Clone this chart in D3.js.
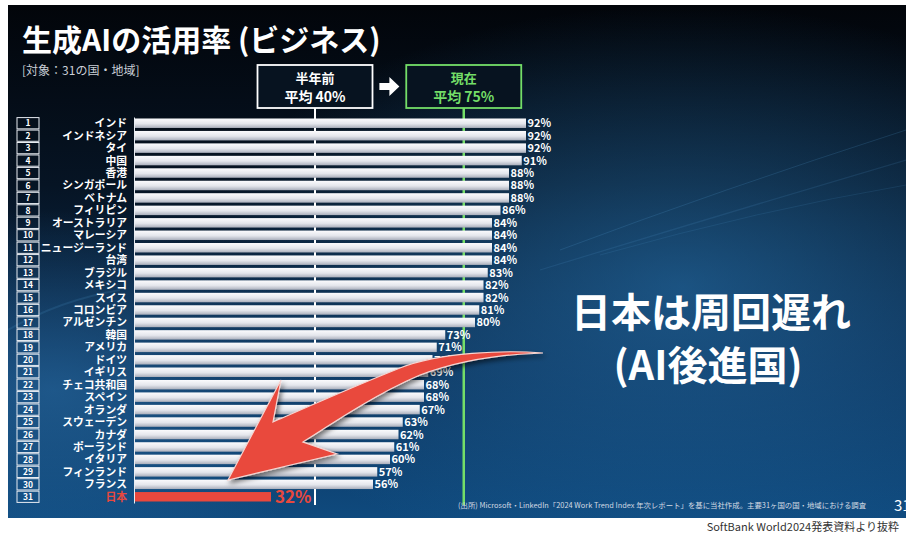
<!DOCTYPE html>
<html>
<head>
<meta charset="utf-8">
<script src="https://cdn.jsdelivr.net/npm/d3@7"></script>
<style>
  html, body { margin: 0; padding: 0; background: #fff; }
  svg { display: block; font-family: "Noto Sans CJK JP", "Noto Sans", sans-serif; }
</style>
</head>
<body>
<svg id="chart" width="909" height="535"></svg>
<script>
// 国・地域と活用率（%）
const countries = ["インド", "インドネシア", "タイ", "中国", "香港", "シンガポール", "ベトナム", "フィリピン",
  "オーストラリア", "マレーシア", "ニュージーランド", "台湾", "ブラジル", "メキシコ", "スイス", "コロンビア",
  "アルゼンチン", "韓国", "アメリカ", "ドイツ", "イギリス", "チェコ共和国", "スペイン", "オランダ",
  "スウェーデン", "カナダ", "ポーランド", "イタリア", "フィンランド", "フランス", "日本"]
const values = [92, 92, 92, 91, 88, 88, 88, 86, 84, 84, 84, 84, 83, 82, 82, 81, 80, 73, 71, 70,
  69, 68, 68, 67, 63, 62, 61, 60, 57, 56, 32]
const avgLabels = ["半年前", "現在"]
const avgValues = [40, 75]
const highlight = "日本"

const W = 909, H = 535
const slide = { x: 8, y: 5, w: 898, h: 513 }
const red = "#e9483d"
const green = "#74de68"

const svg = d3.select("#chart")
const defs = svg.append("defs")

// 背景
const bg = defs.append("linearGradient").attr("id", "bg").attr("x1", 0).attr("y1", 0).attr("x2", 0).attr("y2", 1)
bg.append("stop").attr("offset", "0%").attr("stop-color", "#02050a")
bg.append("stop").attr("offset", "35%").attr("stop-color", "#061424")
bg.append("stop").attr("offset", "70%").attr("stop-color", "#0b2f55")
bg.append("stop").attr("offset", "100%").attr("stop-color", "#0f4a7e")

const glow = defs.append("radialGradient").attr("id", "glow").attr("cx", 0.75).attr("cy", 0.55).attr("r", 0.55)
glow.append("stop").attr("offset", "0%").attr("stop-color", "#2a7ab8").attr("stop-opacity", 0.55)
glow.append("stop").attr("offset", "100%").attr("stop-color", "#2a7ab8").attr("stop-opacity", 0)

const glowL = defs.append("radialGradient").attr("id", "glowL").attr("cx", 0.05).attr("cy", 0.75).attr("r", 0.35)
glowL.append("stop").attr("offset", "0%").attr("stop-color", "#2a6fa8").attr("stop-opacity", 0.6)
glowL.append("stop").attr("offset", "100%").attr("stop-color", "#2a6fa8").attr("stop-opacity", 0)

const barGrad = defs.append("linearGradient").attr("id", "barGrad").attr("x1", 0).attr("y1", 0).attr("x2", 0).attr("y2", 1)
barGrad.append("stop").attr("offset", "0%").attr("stop-color", "#fbfbfd")
barGrad.append("stop").attr("offset", "55%").attr("stop-color", "#e4e6ec")
barGrad.append("stop").attr("offset", "100%").attr("stop-color", "#a9aebb")

defs.append("clipPath").attr("id", "slideClip")
  .append("rect").attr("x", slide.x).attr("y", slide.y).attr("width", slide.w).attr("height", slide.h)

const shadow = defs.append("filter").attr("id", "shadow").attr("x", "-20%").attr("y", "-20%").attr("width", "140%").attr("height", "140%")
shadow.append("feDropShadow").attr("dx", 2).attr("dy", 3).attr("stdDeviation", 2.5).attr("flood-color", "#000").attr("flood-opacity", 0.55)

const root = svg.append("g").attr("clip-path", "url(#slideClip)")
root.append("rect").attr("x", slide.x).attr("y", slide.y).attr("width", slide.w).attr("height", slide.h).attr("fill", "url(#bg)")
root.append("rect").attr("x", slide.x).attr("y", slide.y).attr("width", slide.w).attr("height", slide.h).attr("fill", "url(#glow)")
root.append("rect").attr("x", slide.x).attr("y", slide.y).attr("width", slide.w).attr("height", slide.h).attr("fill", "url(#glowL)")

// ぼんやりした光の筋
const streaks = root.append("g").attr("stroke", "#5aa6dc").attr("fill", "none")
streaks.append("path").attr("d", "M560,250 Q720,190 906,130").attr("stroke-width", 1).attr("opacity", 0.18)
streaks.append("path").attr("d", "M540,270 Q720,215 906,160").attr("stroke-width", 1.2).attr("opacity", 0.14)
streaks.append("path").attr("d", "M600,255 Q760,210 906,185").attr("stroke-width", 0.8).attr("opacity", 0.16)
streaks.append("path").attr("d", "M8,330 Q60,300 120,290").attr("stroke-width", 2).attr("opacity", 0.15)

// 見出し
root.append("text").attr("x", 22).attr("y", 51).attr("fill", "#fff")
  .attr("font-size", 30).attr("font-weight", 700).text("生成AIの活用率 (ビジネス)")
root.append("text").attr("x", 22).attr("y", 75).attr("fill", "#c9ced6")
  .attr("font-size", 12).text("[対象：31の国・地域]")

// スケール
const x = d3.scaleLinear().domain([0, 100]).range([135, 560])
const y = d3.scaleBand().domain(countries).range([117, 503])
const barH = y.bandwidth() * 0.76
const lineNudge = 10

const rows = countries.map((c, i) => ({ rank: i + 1, name: c, value: values[i] }))

// 順位の枠
const rankG = root.append("g")
rankG.selectAll("rect").data(rows).join("rect")
  .attr("x", 17).attr("y", d => y(d.name) + 0.6)
  .attr("width", 22).attr("height", y.bandwidth() - 1.2)
  .attr("fill", "none").attr("stroke", "#e8ecf2").attr("stroke-width", 1)
rankG.selectAll("text").data(rows).join("text")
  .attr("x", 28).attr("y", d => y(d.name) + y.bandwidth() / 2 + 3.2)
  .attr("text-anchor", "middle").attr("font-size", 8.5).attr("font-weight", 700).attr("fill", "#fff")
  .text(d => d.rank)

// 国名
root.append("g").selectAll("text").data(rows).join("text")
  .attr("x", 127).attr("y", d => y(d.name) + y.bandwidth() / 2 + 4)
  .attr("text-anchor", "end").attr("font-size", 10.8).attr("font-weight", 700)
  .attr("fill", d => d.name === highlight ? red : "#fff")
  .text(d => d.name)

// 平均ライン
const avgRows = avgLabels.map((l, i) => ({ label: l, value: avgValues[i], color: i === 0 ? "#fff" : green }))
root.append("g").selectAll("line").data(avgRows).join("line")
  .attr("x1", d => x(d.value) + lineNudge).attr("x2", d => x(d.value) + lineNudge)
  .attr("y1", 108).attr("y2", 505)
  .attr("stroke", d => d.color).attr("stroke-width", d => d.color === "#fff" ? 2 : 2.5)

// 棒
root.append("g").selectAll("rect").data(rows).join("rect")
  .attr("x", x(0)).attr("y", d => y(d.name) + (y.bandwidth() - barH) / 2)
  .attr("width", d => x(d.value) - x(0)).attr("height", barH)
  .attr("fill", d => d.name === highlight ? red : "url(#barGrad)")

// 左の軸線
root.append("g").attr("transform", `translate(${x(0) - 1},0)`)
  .call(d3.axisLeft(y).tickSize(0).tickFormat(""))
  .call(g => g.select(".domain").attr("stroke", "#e8ecf2").attr("stroke-width", 1))

// 数値
root.append("g").selectAll("text").data(rows).join("text")
  .attr("x", d => x(d.value) + (d.name === highlight ? 4 : 1.5))
  .attr("y", d => y(d.name) + y.bandwidth() / 2 + (d.name === highlight ? 6.5 : 4))
  .attr("font-size", d => d.name === highlight ? 17 : 11).attr("font-weight", 700)
  .attr("fill", d => d.name === highlight ? red : "#fff")
  .text(d => d.value + "%")

// 平均ボックス
const boxW = 115, boxH = 43, boxY = 65
const boxes = root.append("g").selectAll("g").data(avgRows).join("g")
  .attr("transform", d => `translate(${x(d.value) + lineNudge - boxW / 2},${boxY})`)
boxes.append("rect").attr("width", boxW).attr("height", boxH)
  .attr("fill", "#071320").attr("stroke", d => d.color).attr("stroke-width", 1.8)
boxes.append("text").attr("x", boxW / 2).attr("y", 18).attr("text-anchor", "middle")
  .attr("font-size", 13).attr("font-weight", 700).attr("fill", d => d.color).text(d => d.label)
boxes.append("text").attr("x", boxW / 2).attr("y", 37).attr("text-anchor", "middle")
  .attr("font-size", 14).attr("font-weight", 700).attr("fill", d => d.color).text(d => "平均 " + d.value + "%")

// ボックス間の矢印
const ax = (x(avgValues[0]) + x(avgValues[1])) / 2 + lineNudge
root.append("path")
  .attr("d", `M${ax - 10},83 H${ax} V77 L${ax + 10},86.5 L${ax},96 V90 H${ax - 10} Z`)
  .attr("fill", "#fff")

// 赤い矢印
root.append("path")
  .attr("d", "M543,353 C505,350 440,352 400,368 C350,388 305,408 273,422 L281,380 L228,480 L337,454 L303,442 C340,418 380,392 420,375 C460,360 505,354 543,353 Z")
  .attr("fill", red).attr("stroke", "#f6d6d2").attr("stroke-width", 1.2).attr("stroke-linejoin", "miter")
  .attr("filter", "url(#shadow)")

// キャッチコピー
root.append("text").attr("x", 711).attr("y", 327).attr("text-anchor", "middle")
  .attr("font-size", 40).attr("font-weight", 700).attr("fill", "#fff").text("日本は周回遅れ")
root.append("text").attr("x", 708).attr("y", 380).attr("text-anchor", "middle")
  .attr("font-size", 40).attr("font-weight", 700).attr("fill", "#fff").text("(AI後進国)")

// 出所
root.append("text").attr("x", 458).attr("y", 508).attr("font-size", 7.4).attr("fill", "#d4dbe4")
  .text("(出所) Microsoft・LinkedIn「2024 Work Trend Index 年次レポート」を基に当社作成。主要31ヶ国の国・地域における調査")
root.append("text").attr("x", 894).attr("y", 511).attr("font-size", 15).attr("fill", "#fff").text("31")

// スライド外の注記
svg.append("text").attr("x", 899).attr("y", 531).attr("text-anchor", "end")
  .attr("font-size", 11).attr("fill", "#333").text("SoftBank World2024発表資料より抜粋")
</script>
</body>
</html>
